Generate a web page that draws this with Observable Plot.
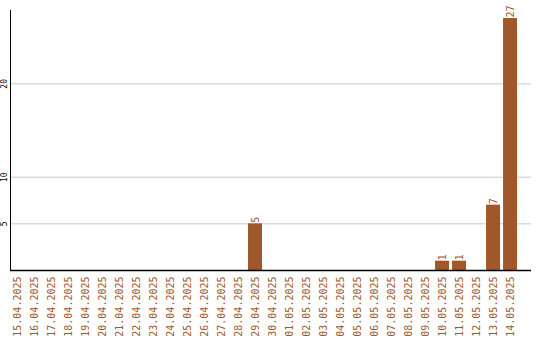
<!DOCTYPE html>
<html>
<head>
<meta charset="utf-8">
<script src="https://cdn.jsdelivr.net/npm/d3@7"></script>
<script src="https://cdn.jsdelivr.net/npm/@observablehq/plot@0.6"></script>
<style>
  html, body { margin: 0; padding: 0; background: #fff; }
  #chart svg { display: block; }
</style>
</head>
<body>
<div id="chart"></div>
<script>
// Daily counts, 15.04.2025 – 14.05.2025
const days = [
  "15.04.2025", "16.04.2025", "17.04.2025", "18.04.2025", "19.04.2025",
  "20.04.2025", "21.04.2025", "22.04.2025", "23.04.2025", "24.04.2025",
  "25.04.2025", "26.04.2025", "27.04.2025", "28.04.2025", "29.04.2025",
  "30.04.2025", "01.05.2025", "02.05.2025", "03.05.2025", "04.05.2025",
  "05.05.2025", "06.05.2025", "07.05.2025", "08.05.2025", "09.05.2025",
  "10.05.2025", "11.05.2025", "12.05.2025", "13.05.2025", "14.05.2025"
];
const counts = [
  0, 0, 0, 0, 0,
  0, 0, 0, 0, 0,
  0, 0, 0, 0, 5,
  0, 0, 0, 0, 0,
  0, 0, 0, 0, 0,
  1, 1, 0, 7, 27
];
const yTicks = [5, 10, 20];

const rows = days.map((day, i) => ({day, count: counts[i]}));
const barColor = "#a0572a";
const mono = "'DejaVu Sans Mono', monospace";

const chart = Plot.plot({
  width: 540,
  height: 340,
  marginTop: 10,
  marginRight: 9,
  marginBottom: 70,
  marginLeft: 10,
  style: {background: "#fff", fontFamily: mono},
  x: {domain: days, paddingInner: 3 / 17, paddingOuter: 0.41, align: 0, round: false, label: null},
  y: {domain: [0, 27.86], label: null},
  marks: [
    Plot.gridY(yTicks, {stroke: "#c8c8c8", strokeOpacity: 1}),
    Plot.barY(rows, {x: "day", y: "count", fill: barColor}),
    Plot.text(rows.filter(d => d.count > 0), {
      x: "day", y: "count", text: d => String(d.count),
      rotate: -90, textAnchor: "start", lineAnchor: "middle",
      dy: -1, fill: barColor, fontSize: 10, fontFamily: mono
    }),
    Plot.text(yTicks, {
      y: d => d, text: d => String(d), frameAnchor: "left",
      rotate: -90, textAnchor: "middle", lineAnchor: "middle",
      dx: -6, fill: "#000", fontSize: 8, fontFamily: mono
    }),
    Plot.axisX({
      tickRotate: -90, tickSize: 0, tickPadding: 6,
      fill: barColor, fontSize: 10, fontFamily: mono, label: null
    }),
    Plot.axisY({ticks: [], label: null}),
    Plot.frame({anchor: "left", stroke: "#000", strokeWidth: 1}),
    Plot.ruleY([0], {stroke: "#000", strokeWidth: 1.5})
  ]
});

document.getElementById("chart").append(chart);
</script>
</body>
</html>
